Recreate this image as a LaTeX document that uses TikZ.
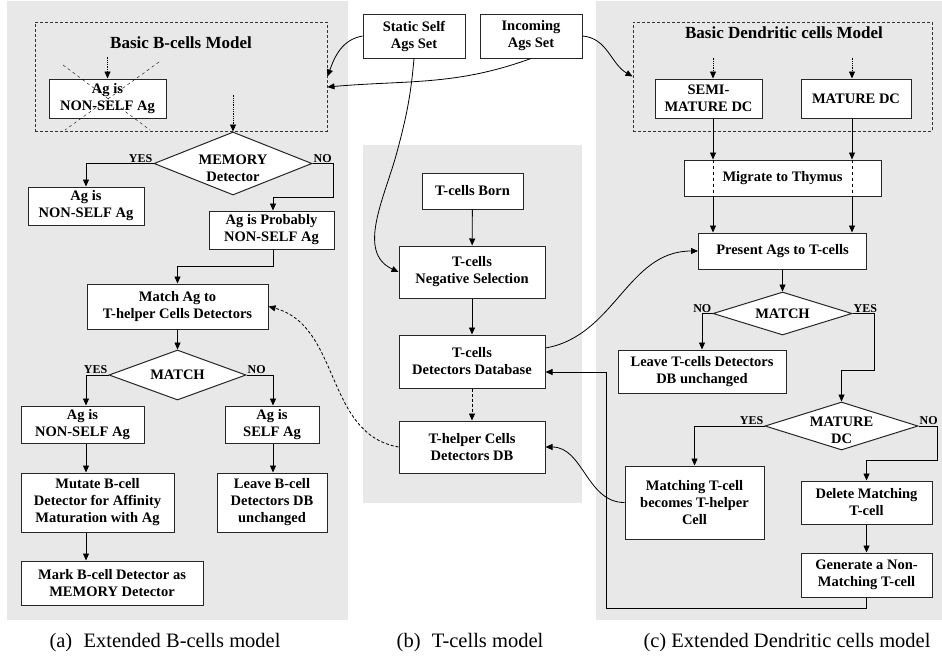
\documentclass[tikz,border=0pt]{standalone}
\usepackage{fontspec}
\setmainfont{Liberation Serif}
\usetikzlibrary{shapes.geometric,arrows.meta,calc}
\definecolor{PanelGray}{RGB}{232,232,232}
\tikzset{
  box/.style={draw=black!85, line width=1pt, fill=white, align=center, inner sep=1pt,
    font=\fontsize{14.5}{17}\selectfont\bfseries},
  decision/.style={box, shape=diamond, aspect=3, inner sep=0pt},
  dtext/.style={font=\fontsize{14.5}{17}\selectfont\bfseries, align=center, inner sep=0pt, yshift=-4.5pt},
  dashbox/.style={draw=black!80, line width=0.9pt, dash pattern=on 3pt off 2pt},
  modeltitle/.style={font=\fontsize{17}{20}\selectfont\bfseries},
  lbl/.style={font=\fontsize{12}{14}\selectfont\bfseries, inner sep=1pt},
  subcap/.style={font=\fontsize{20.5}{24}\selectfont},
  arr/.style={-{Triangle[length=7pt,width=6pt]}, line width=0.8pt},
  dotarr/.style={arr, densely dotted},
  dasharr/.style={arr, dash pattern=on 3pt off 2pt},
  panel/.style={fill=PanelGray},
}
\begin{document}
\begin{tikzpicture}[x=1pt, y=-1pt]
  \useasboundingbox (0,0) rectangle (942,659);
  % grey panels
  \fill[panel] (7,1) rectangle (348,620);
  \fill[panel] (363,145) rectangle (582,503);
  \fill[panel] (596,1) rectangle (942,620);

  % (a) extended B-cells model
  \node[dashbox, minimum width=292pt, minimum height=109pt] (bmodel) at (181,76.5) {};
  \node[modeltitle] (btitle) at (181,43) {Basic B-cells Model};
  \node[box, minimum width=117pt, minimum height=39pt] (bcross) at (107.5,98.5) {Ag is\\NON-SELF Ag};
  \draw[dashed] (63,65) -- (150,130);
  \draw[dashed] (159,62) -- (65,130);
  \node[decision, minimum width=158pt, minimum height=63pt,
    label={[dtext]center:MEMORY\\Detector}] (memory) at (233,163.5) {};
  \node[box, minimum width=116pt, minimum height=38pt] (bnon) at (86,206) {Ag is\\NON-SELF Ag};
  \node[box, minimum width=125pt, minimum height=38pt] (bprob) at (271.5,230) {Ag is Probably\\NON-SELF Ag};
  \node[box, minimum width=181pt, minimum height=45pt] (bthelp) at (177.5,306.5) {Match Ag to\\T-helper Cells Detectors};
  \node[decision, minimum width=137pt, minimum height=50pt] (bmatch) at (177.5,375) {MATCH};
  \node[box, minimum width=123pt, minimum height=37pt] (bnonself) at (82.5,424.5) {Ag is\\NON-SELF Ag};
  \node[box, minimum width=94pt, minimum height=37pt] (bself) at (272,424.5) {Ag is\\SELF Ag};
  \node[box, minimum width=153pt, minimum height=59pt] (bmutate) at (97.5,502.5) {Mutate B-cell\\Detector for Affinity\\Maturation with Ag};
  \node[box, minimum width=110pt, minimum height=59pt] (bleave) at (272,502.5) {Leave B-cell\\Detectors DB\\unchanged};
  \node[box, minimum width=182pt, minimum height=44pt] (bmark) at (112,583) {Mark B-cell Detector as\\MEMORY Detector};
  \coordinate (colA) at (86,0);
  \coordinate (colB) at (273,0);

  \draw[dotarr] ($(bcross.north)+(0,-22)$) -- (bcross.north);
  \draw[dotarr] ($(memory.north)+(0,-37)$) -- (memory.north);
  \draw[arr] (memory.west) -| (bnon.north);
  \draw[arr] (memory.east) -- ++(21,0) -- ++(0,34) -| (colB |- bprob.north);
  \draw[arr] (colB |- bprob.south) -- ++(0,17) -| (bthelp.north);
  \draw[arr] (bthelp) -- (bmatch);
  \draw[arr] (bmatch.west) -| (colA |- bnonself.north);
  \draw[arr] (bmatch.east) -| (colB |- bself.north);
  \draw[arr] (colA |- bnonself.south) -- (colA |- bmutate.north);
  \draw[arr] (colB |- bself.south) -- (colB |- bleave.north);
  \draw[arr] (colA |- bmutate.south) -- (colA |- bmark.north);
  \node[lbl, above left] (yesM) at (memory.west) {YES};
  \node[lbl, above right] (noM) at (memory.east) {NO};
  \node[lbl, above left] (yesB) at (bmatch.west) {YES};
  \node[lbl, above right] (noB) at (bmatch.east) {NO};

  % (b) T-cells model
  \node[box, minimum width=102pt, minimum height=44pt] (static) at (414,36) {Static Self\\Ags Set};
  \node[box, minimum width=102pt, minimum height=44pt] (incoming) at (531,36) {Incoming\\Ags Set};
  \node[box, minimum width=101pt, minimum height=36pt] (born) at (472.5,191) {T-cells Born};
  \node[box, minimum width=146pt, minimum height=52pt] (negsel) at (472,272) {T-cells\\Negative Selection};
  \node[box, minimum width=146pt, minimum height=53pt] (tdb) at (472,361.5) {T-cells\\Detectors Database};
  \node[box, minimum width=146pt, minimum height=52pt] (thelper) at (472,447) {T-helper Cells\\Detectors DB};
  \coordinate (kink) at (397,152);

  \draw[arr] (born) -- (negsel);
  \draw[arr] (negsel) -- (tdb);
  \draw[dasharr] (tdb) -- (thelper);

  % (c) extended dendritic cells model
  \node[dashbox, minimum width=299pt, minimum height=109pt] (dmodel) at (782.5,76.5) {};
  \node[modeltitle] (dtitle) at (784,33) {Basic Dendritic cells Model};
  \node[box, minimum width=107pt, minimum height=39pt] (semi) at (708.5,98.5) {SEMI-\\MATURE DC};
  \node[box, minimum width=110pt, minimum height=39pt] (mature) at (856,98.5) {MATURE DC};
  \node[box, minimum width=197pt, minimum height=36pt] (migrate) at (782.5,178) {Migrate to Thymus};
  \node[box, minimum width=168pt, minimum height=36pt] (present) at (782.5,251) {Present Ags to T-cells};
  \node[decision, minimum width=139pt, minimum height=43pt] (dmatch) at (782.5,313.5) {MATCH};
  \node[box, minimum width=168pt, minimum height=43pt] (tleave) at (702,371.5) {Leave T-cells Detectors\\DB unchanged};
  \node[decision, minimum width=153pt, minimum height=48pt,
    label={[dtext]center:MATURE\\DC}] (dmature) at (841.5,426) {};
  \node[box, minimum width=139pt, minimum height=73pt] (tmatch) at (694.5,502.5) {Matching T-cell\\becomes T-helper\\Cell};
  \node[box, minimum width=131pt, minimum height=43pt] (tdelete) at (866.5,502.5) {Delete Matching\\T-cell};
  \node[box, minimum width=131pt, minimum height=44pt] (tgen) at (866.5,575) {Generate a Non-\\Matching T-cell};
  \coordinate (colC) at (713,0);
  \coordinate (colD) at (852,0);
  \coordinate (ret) at (606,372);

  \draw[dotarr] ($(colC |- semi.north)+(0,-21)$) -- (colC |- semi.north);
  \draw[dotarr] ($(colD |- mature.north)+(0,-21)$) -- (colD |- mature.north);
  \foreach \c in {colC, colD} {
    \draw[arr] (\c |- semi.south) -- (\c |- migrate.north);
    \draw[dashed] (\c |- migrate.north) -- (\c |- migrate.south);
    \draw[arr] (\c |- migrate.south) -- (\c |- present.north);
  }
  \draw[arr] (present) -- (dmatch);
  \draw[arr] (dmatch.west) -| (tleave.north);
  \draw[arr] (dmatch.east) -- ++(22,0) -- ++(0,56.5) -| (dmature.north);
  \draw[arr] (dmature.west) -| (tmatch.north);
  \draw[arr] (dmature.east) -- ++(19,0) -- ++(0,34) -| (tdelete.north);
  \draw[arr] (tdelete) -- (tgen);
  \draw[arr] (tgen.south) -- ++(0,11) -| (ret) -- (ret -| tdb.east);
  \node[lbl, above left] (noD) at (dmatch.west) {NO};
  \node[lbl, above right] (yesD) at (dmatch.east) {YES};
  \node[lbl, above left] (yesT) at (dmature.west) {YES};
  \node[lbl, above right] (noT) at (dmature.east) {NO};

  % links between the models
  \draw[arr] (static.west) to[out=190, in=70] (bmodel.east);
  \draw[arr] (incoming.south) to[out=-160, in=5] ([yshift=-10.5pt]bmodel.east);
  \draw[arr] (incoming.east) to[out=-5, in=150] (dmodel.west);
  \draw[arr] (static.south) to[out=-95, in=75] (kink) to[out=-105, in=155] (negsel.west);
  \draw[arr] ([yshift=13.5pt]tdb.east) to[out=10, in=180] (present.west);
  \draw[dasharr] (thelper.west) to[out=170, in=-15] (bthelp.east);
  \draw[arr] (tmatch.west) to[out=180, in=0] (thelper.east);

  % captions
  \node[subcap] (capA) at (165,643) {(a)\hspace{0.55em}Extended B-cells model};
  \node[subcap] (capB) at (470,643) {(b)\hspace{0.55em}T-cells model};
  \node[subcap] (capC) at (787,643) {(c) Extended Dendritic cells model};
\end{tikzpicture}
\end{document}
